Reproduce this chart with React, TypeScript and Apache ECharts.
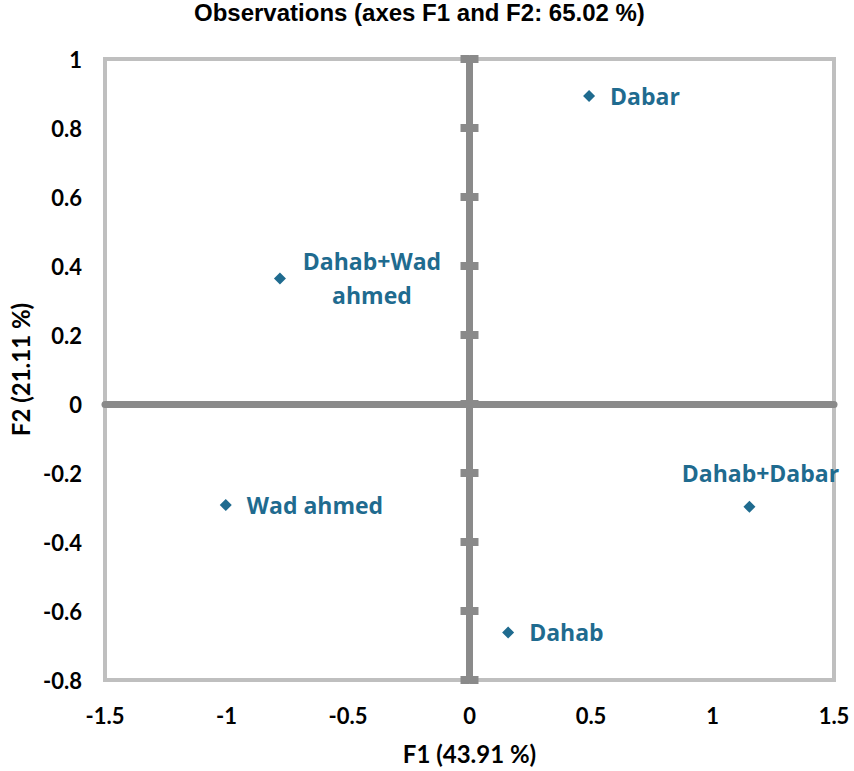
import React, { useEffect, useRef } from "react";
import * as echarts from "echarts";

const titleText = "Observations (axes F1 and F2: 65.02 %)";
const xName = "F1 (43.91 %)";
const yName = "F2 (21.11 %)";
const names = ["Dabar", "Dahab+Wad\nahmed", "Wad ahmed", "Dahab+Dabar", "Dahab"];
const f1 = [0.492, -0.78, -1.003, 1.152, 0.159];
const f2 = [0.893, 0.364, -0.293, -0.298, -0.662];
const xRange = { min: -1.5, max: 1.5, interval: 0.5 };
const yRange = { min: -0.8, max: 1, interval: 0.2 };

const BLUE = "#1f6b8f";
const GREY = "#8a8a8a";
const FONT = "Lato";
const LFONT = "Open Sans";

const labelStyles: Record<string, any> = {
  "Dabar": { position: "right", distance: 15 },
  "Wad ahmed": { position: "right", distance: 15 },
  "Dahab": { position: "right", distance: 15 },
  "Dahab+Wad\nahmed": { position: "right", distance: 15, align: "center", offset: [71, 0], lineHeight: 34 },
  "Dahab+Dabar": { position: "top", distance: 16, offset: [11, 0] },
};

export default function App() {
  const ref = useRef<HTMLDivElement>(null);
  useEffect(() => {
    if (!ref.current) return;
    const chart = echarts.init(ref.current, null, { renderer: "svg" });
    const labelFont = { fontFamily: FONT, fontWeight: "bold", fontSize: 22, color: "#000" };
    const zeroY = {
      type: "value",
      ...yRange,
      position: "left",
      axisLine: { show: true, onZero: true, onZeroAxisIndex: 0, lineStyle: { color: GREY, width: 7 } },
      axisLabel: { show: false },
      splitLine: { show: false },
    };
    chart.setOption({
      animation: false,
      title: {
        text: titleText,
        left: 194,
        top: 0,
        padding: [0, 0, 0, 0],
        textStyle: { fontFamily: "Liberation Sans", fontWeight: "bold", fontSize: 24, color: "#000" },
      },
      grid: {
        left: 103,
        right: 20,
        top: 59,
        bottom: 91,
        show: true,
        borderColor: "#bfbfbf",
        borderWidth: 4,
        backgroundColor: "#fff",
      },
      xAxis: [
        {
          type: "value",
          ...xRange,
          position: "bottom",
          axisLine: { show: false, onZero: false },
          axisTick: { show: false },
          splitLine: { show: false },
          axisLabel: { ...labelFont, margin: 24 },
          name: xName,
          nameLocation: "middle",
          nameGap: 61,
          nameTextStyle: { fontFamily: FONT, fontWeight: "bold", fontSize: 24, color: "#000" },
        },
        {
          type: "value",
          ...xRange,
          position: "bottom",
          axisLine: { show: true, onZero: true, onZeroAxisIndex: 0, lineStyle: { color: GREY, width: 7 } },
          axisTick: { show: false },
          axisLabel: { show: false },
          splitLine: { show: false },
        },
      ],
      yAxis: [
        {
          type: "value",
          ...yRange,
          position: "left",
          axisLine: { show: false, onZero: false },
          axisTick: { show: false },
          splitLine: { show: false },
          axisLabel: { ...labelFont, margin: 23 },
          name: yName,
          nameLocation: "middle",
          nameGap: 73,
          nameTextStyle: { fontFamily: FONT, fontWeight: "bold", fontSize: 24, color: "#000" },
        },
        { ...zeroY, axisTick: { show: true, inside: true, length: 9, lineStyle: { color: GREY, width: 8 } } },
        { ...zeroY, axisTick: { show: true, inside: false, length: 9, lineStyle: { color: GREY, width: 8 } } },
      ],
      series: [
        {
          type: "scatter",
          xAxisIndex: 0,
          yAxisIndex: 0,
          symbol: "diamond",
          symbolSize: 12,
          itemStyle: { color: BLUE, opacity: 1 },
          z: 5,
          data: names.map((n, i) => ({
            name: n,
            value: [f1[i], f2[i]],
            label: {
              show: true,
              formatter: "{b}",
              color: BLUE,
              opacity: 1,
              fontFamily: LFONT,
              fontWeight: "bold",
              fontSize: 23,
              ...labelStyles[n],
            },
          })),
        },
      ],
    });
    return () => chart.dispose();
  }, []);
  return <div ref={ref} style={{ position: "absolute", left: 0, top: 0, width: 854, height: 771 }} />;
}
